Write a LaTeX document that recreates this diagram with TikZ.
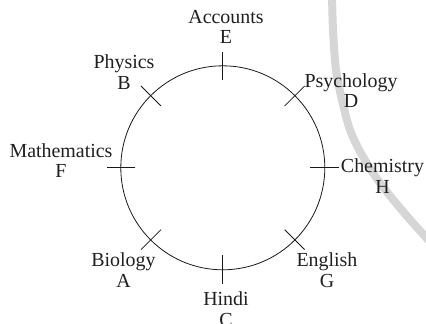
\documentclass[tikz,border=0pt]{standalone}
\usepackage{fontspec}
\setmainfont{Liberation Serif}
\usetikzlibrary{calc}
\tikzset{
  lbl/.style={align=center, inner sep=0pt, font=\fontsize{20}{20.6}\selectfont, text=black!88},
  ring/.style={line width=0.8bp, black!90},
  tick/.style={line width=0.8bp, black!90},
  watermark/.style={line width=8bp, black!16, line cap=butt}
}
\begin{document}
\begin{tikzpicture}[x=1bp,y=-1bp]
\useasboundingbox (0,0) rectangle (426,324);
% background grey arc
\draw[watermark] plot[smooth] coordinates {(332,-6) (333,30) (336,70) (342,100) (350,130) (362,155) (380,183) (406,215) (432,244)};
\coordinate (c) at (222.8,167.8);
\draw[ring] (c) circle[radius=102bp];
\foreach \a/\n in {90/E,45/D,0/H,-45/G,-90/C,-135/A,180/F,135/B}{
  \coordinate (in\n) at ($(c)+(\a:87.5bp)$);
  \coordinate (out\n) at ($(c)+(\a:115.7bp)$);
  \draw[tick] (in\n) -- (out\n);
}
\node[lbl] (labE) at (226,26.7) {Accounts\\E};
\node[lbl] (labB) at (124,72) {Physics\\B};
\node[lbl] (labD) at (351,90.4) {Psychology\\D};
\node[lbl] (labF) at (61,160.7) {Mathematics\\F};
\node[lbl] (labH) at (382.5,176) {Chemistry\\H};
\node[lbl] (labA) at (123.5,270) {Biology\\A};
\node[lbl] (labG) at (327,270) {English\\G};
\node[lbl] (labC) at (226,309) {Hindi\\C};
\end{tikzpicture}
\end{document}
